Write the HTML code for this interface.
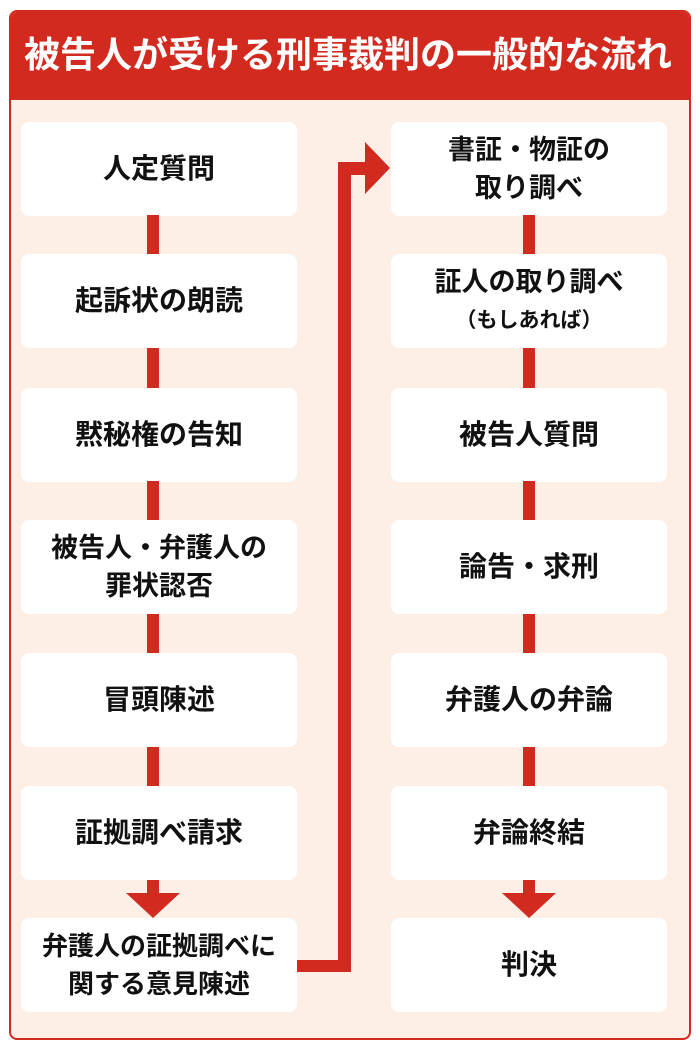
<!DOCTYPE html>
<html><head><meta charset="utf-8"><style>
body{margin:0;width:700px;height:1050px;background:#fff;font-family:"Liberation Sans","Noto Sans CJK JP",sans-serif;position:relative;overflow:hidden}
.frame{position:absolute;left:9px;top:10px;width:678px;height:1026px;border:2px solid #d22a1f;border-radius:8px;background:#fdeee6;overflow:hidden}
.hd{position:absolute;left:0;top:0;width:100%;height:88px;background:#d22a1f;color:#fff;font-weight:bold;font-size:36px;line-height:86px;padding-left:13px;box-sizing:border-box;white-space:nowrap;letter-spacing:0px}
.b{position:absolute;width:276px;height:94px;background:#fff;border-radius:8px;display:flex;align-items:center;justify-content:center;text-align:center;font-weight:bold;font-size:28px;line-height:40px;color:#111;white-space:nowrap}
.b.s{font-size:27px;line-height:38px}
.r{position:absolute;background:#d22a1f}
.tri{position:absolute;width:0;height:0}
</style></head><body>
<div class="frame"><div class="hd">被告人が受ける刑事裁判の一般的な流れ</div></div>
<div class="b" style="left:21px;top:122px">人定質問</div>
<div class="b" style="left:21px;top:254px">起訴状の朗読</div>
<div class="b" style="left:21px;top:388px">黙秘権の告知</div>
<div class="b s" style="left:21px;top:520px">被告人・弁護人の<br>罪状認否</div>
<div class="b" style="left:21px;top:653px">冒頭陳述</div>
<div class="b" style="left:21px;top:786px">証拠調べ請求</div>
<div class="b s" style="left:21px;top:918px;font-size:26px">弁護人の証拠調べに<br>関する意見陳述</div>
<div class="b s" style="left:391px;top:122px">書証・物証の<br>取り調べ</div>
<div class="b s" style="left:391px;top:254px;line-height:36px"><div>証人の取り調べ<br><span style="font-size:21px">（もしあれば）</span></div></div>
<div class="b" style="left:391px;top:388px">被告人質問</div>
<div class="b" style="left:391px;top:520px">論告・求刑</div>
<div class="b" style="left:391px;top:653px">弁護人の弁論</div>
<div class="b" style="left:391px;top:786px">弁論終結</div>
<div class="b" style="left:391px;top:918px">判決</div>
<div class="r" style="left:147px;top:215px;width:12px;height:39px"></div>
<div class="r" style="left:147px;top:348px;width:12px;height:40px"></div>
<div class="r" style="left:147px;top:481px;width:12px;height:39px"></div>
<div class="r" style="left:147px;top:614px;width:12px;height:39px"></div>
<div class="r" style="left:147px;top:747px;width:12px;height:39px"></div>
<div class="r" style="left:147px;top:880px;width:12px;height:14px"></div>
<div class="tri" style="left:126px;top:893px;border-left:27px solid transparent;border-right:27px solid transparent;border-top:25px solid #d22a1f"></div>
<div class="r" style="left:523px;top:215px;width:12px;height:39px"></div>
<div class="r" style="left:523px;top:348px;width:12px;height:40px"></div>
<div class="r" style="left:523px;top:481px;width:12px;height:39px"></div>
<div class="r" style="left:523px;top:614px;width:12px;height:39px"></div>
<div class="r" style="left:523px;top:747px;width:12px;height:39px"></div>
<div class="r" style="left:523px;top:880px;width:12px;height:14px"></div>
<div class="tri" style="left:502px;top:893px;border-left:27px solid transparent;border-right:27px solid transparent;border-top:25px solid #d22a1f"></div>
<div class="r" style="left:297px;top:960px;width:54px;height:12px"></div>
<div class="r" style="left:338px;top:162px;width:13px;height:810px"></div>
<div class="r" style="left:338px;top:162px;width:28px;height:13px"></div>
<div class="tri" style="left:365px;top:142px;border-top:26px solid transparent;border-bottom:26px solid transparent;border-left:25px solid #d22a1f"></div>
</body></html>
